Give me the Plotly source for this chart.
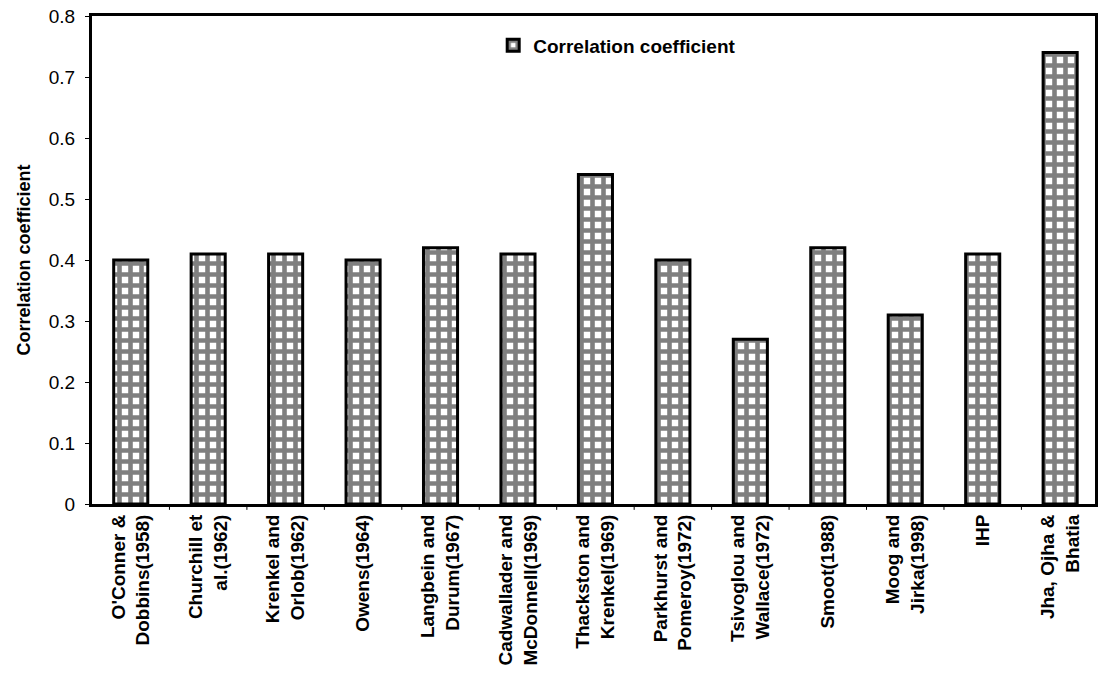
import plotly.graph_objects as go

# Studies compared and their correlation coefficients
studies = [
    "O'Conner &<br>Dobbins(1958)",
    "Churchill et<br>al.(1962)",
    "Krenkel and<br>Orlob(1962)",
    "Owens(1964)",
    "Langbein and<br>Durum(1967)",
    "Cadwallader and<br>McDonnell(1969)",
    "Thackston and<br>Krenkel(1969)",
    "Parkhurst and<br>Pomeroy(1972)",
    "Tsivoglou and<br>Wallace(1972)",
    "Smoot(1988)",
    "Moog and<br>Jirka(1998)",
    "IHP",
    "Jha, Ojha &<br>Bhatia",
]
corr = [0.40, 0.41, 0.41, 0.40, 0.42, 0.41, 0.54, 0.40, 0.27, 0.42, 0.31, 0.41, 0.74]
y_ticks = [0, 0.1, 0.2, 0.3, 0.4, 0.5, 0.6, 0.7, 0.8]
y_tick_text = ["0", "0.1", "0.2", "0.3", "0.4", "0.5", "0.6", "0.7", "0.8"]

FONT = "Arial, Liberation Sans, sans-serif"

fig = go.Figure(
    go.Bar(
        x=list(range(len(studies))),
        y=corr,
        name="Correlation coefficient",
        marker=dict(
            color="white",
            line=dict(color="black", width=3),
            pattern=dict(shape="+", fgcolor="black", bgcolor="white",
                         size=11, solidity=0.66),
        ),
    )
)

fig.update_layout(
    width=1098,
    height=684,
    margin=dict(l=92, r=0, t=16, b=180),
    paper_bgcolor="white",
    plot_bgcolor="white",
    bargap=0.56,
    font=dict(family=FONT, size=18, color="black"),
    showlegend=True,
    legend=dict(
        x=0.40, y=0.94, xanchor="left", yanchor="middle",
        bgcolor="rgba(0,0,0,0)",
        font=dict(family=FONT, size=19, color="black", weight="bold"),
        itemwidth=30,
    ),
)

fig.update_xaxes(
    range=[-0.5, 12.45],
    tickmode="array",
    tickvals=list(range(len(studies))),
    ticktext=studies,
    tickangle=-90,
    tickfont=dict(family=FONT, size=19, color="black", weight="bold"),
    showline=True, linecolor="black", linewidth=3,
    mirror=True,
    showgrid=False, zeroline=False,
    ticks="",
)

fig.update_yaxes(
    range=[0, 0.8],
    tickmode="array",
    tickvals=y_ticks,
    ticktext=y_tick_text,
    tickfont=dict(family=FONT, size=19, color="black"),
    ticks="outside", ticklen=4, tickcolor="black",
    ticklabelstandoff=6,
    showline=True, linecolor="black", linewidth=3,
    mirror=True,
    showgrid=False, zeroline=False,
    title=dict(text="Correlation coefficient",
               font=dict(family=FONT, size=18, color="black", weight="bold"),
               standoff=14),
)

# Category separator ticks along the bottom axis
for i in range(len(studies)):
    fig.add_shape(type="line", xref="x", yref="paper",
                  x0=i + 0.5, x1=i + 0.5, y0=0, y1=-0.012,
                  line=dict(color="black", width=1))

fig.write_html("out.html")
